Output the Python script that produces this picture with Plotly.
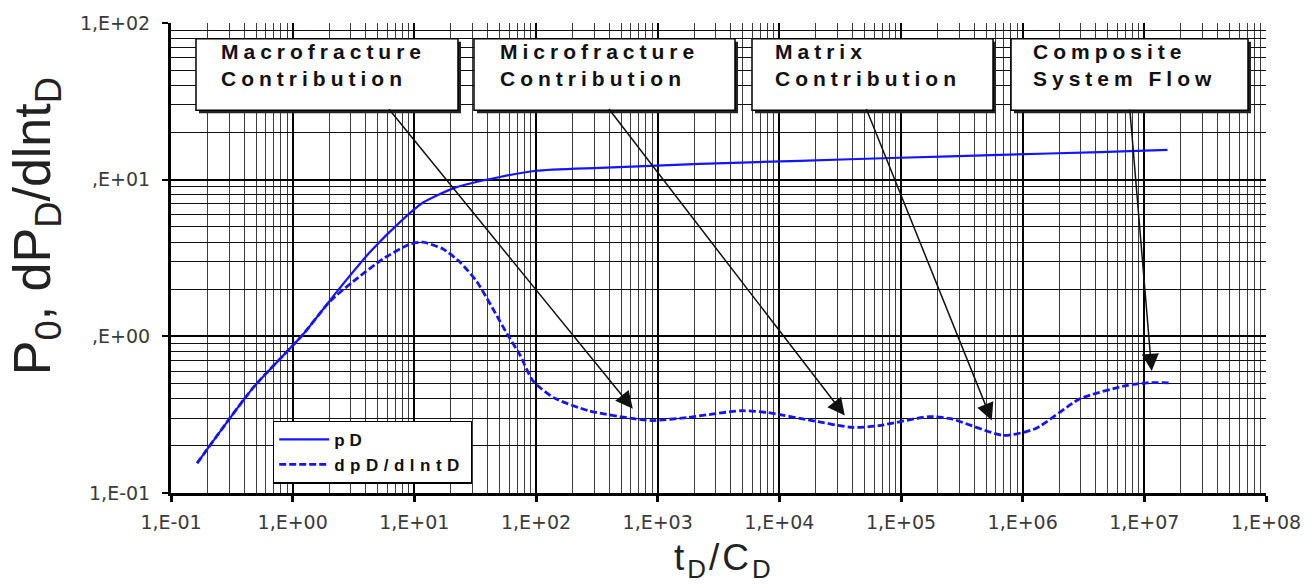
import numpy as np
import plotly.graph_objects as go

# ---- data ----
pd_x = [0.164, 0.472, 1.22, 2.31, 4.32, 8.05, 11.8, 21.6, 50.5, 100, 335, 2220,
        14700, 97700, 646000, 4.3e6, 1.55e7]
pd_y = [0.155, 0.469, 1.03, 1.93, 3.45, 5.58, 7.15, 8.9, 10.4, 11.4, 11.9, 12.6,
        13.2, 13.8, 14.4, 15.0, 15.5]

dpd_x = [0.164, 0.472, 1.22, 2.02, 3.12, 5.52, 9.2, 11.8, 17.2, 23.7, 32.7, 44.2,
         57.7, 73.8, 94.4, 140, 272, 637, 895, 1738, 4830, 8040, 18490, 40200,
         65700, 169000, 256000, 700000, 1.28e6, 2.95e6, 6.9e6, 1.05e7, 1.62e7]
dpd_y = [0.155, 0.469, 1.03, 1.67, 2.23, 3.12, 3.88, 3.99, 3.61, 2.98, 2.23, 1.50,
         1.04, 0.76, 0.519, 0.405, 0.335, 0.298, 0.290, 0.303, 0.335, 0.326, 0.290,
         0.262, 0.269, 0.307, 0.298, 0.233, 0.258, 0.399, 0.483, 0.505, 0.505]

x_tickvals = [1e-1, 1e0, 1e1, 1e2, 1e3, 1e4, 1e5, 1e6, 1e7, 1e8]
x_ticktext = ["1,E-01", "1,E+00", "1,E+01", "1,E+02", "1,E+03", "1,E+04",
              "1,E+05", "1,E+06", "1,E+07", "1,E+08"]
y_tickvals = [1e-1, 1e0, 1e1, 1e2]
y_ticktext = ["1,E-01", ",E+00", ",E+01", "1,E+02"]

box_labels = [("Macrofracture", "Contribution"),
              ("Microfracture", "Contribution"),
              ("Matrix", "Contribution"),
              ("Composite", "System Flow")]
# arrow tips (data values) for each label
arrow_tip_x = [625, 34500, 557000, 1.15e7]
arrow_tip_y = [0.345, 0.312, 0.290, 0.600]

# ---- layout helpers (pixel geometry) ----
W, H = 1314, 588
L, R, T, B = 171, 48, 19, 95
PW, PH = W - L - R, H - T - B


def px(xp):
    return (xp - L) / PW


def py(yp):
    return (H - B - yp) / PH


def ls(txt, sp):
    return f'<span style="letter-spacing:{sp}px">{txt}</span>'


fig = go.Figure()
fig.add_trace(go.Scatter(x=pd_x, y=pd_y, mode="lines", name="<b>" + ls("pD", 5) + "</b>",
                         line=dict(color="#1414ff", width=2.2, shape="spline", smoothing=0.6)))
fig.add_trace(go.Scatter(x=dpd_x, y=dpd_y, mode="lines", name="<b>" + ls("dpD/dlntD", 5.5) + "</b>",
                         line=dict(color="#1414ff", width=2.8, dash="7px,3px",
                                   shape="spline", smoothing=0.6)))

minor_vals = [k * 10.0 ** e for e in range(-1, 8) for k in range(2, 10)]
minor_vals_y = [k * 10.0 ** e for e in range(-1, 2) for k in range(2, 10)]

tickfont = dict(family="DejaVu Sans", size=19, color="#3a3a3a")
fig.update_xaxes(type="log", range=[-1, 8], tickmode="array", tickvals=x_tickvals,
                 ticktext=x_ticktext, tickfont=tickfont,
                 showgrid=True, gridcolor="#000", gridwidth=1.5,
                 showline=True, linecolor="black", linewidth=3,
                 ticks="outside", ticklen=6, tickwidth=3, tickcolor="black",
                 ticklabelstandoff=4,
                 minor=dict(tickmode="array", tickvals=minor_vals, showgrid=True,
                            gridcolor="#3c3c3c", gridwidth=1.2, ticks=""),
                 zeroline=False)
fig.update_yaxes(type="log", range=[-1, 2], tickmode="array", tickvals=y_tickvals,
                 ticktext=y_ticktext, tickfont=tickfont,
                 showgrid=True, gridcolor="#000", gridwidth=1.5,
                 showline=True, linecolor="black", linewidth=3,
                 ticks="outside", ticklen=6, tickwidth=2, tickcolor="black",
                 ticklabelstandoff=8,
                 minor=dict(tickmode="array", tickvals=minor_vals_y, showgrid=True,
                            gridcolor="#111", gridwidth=1.3, ticks=""),
                 zeroline=False)

shapes = []
annotations = []
box_px = [(196, 458), (474, 735), (752, 993), (1011, 1248)]
text_left = [221, 500, 775, 1033]
btop, bbot = 35, 107
for (x0, x1), (l1, l2), tl in zip(box_px, box_labels, text_left):
    shapes.append(dict(type="rect", xref="paper", yref="paper",
                       x0=px(x0 + 3), x1=px(x1 + 3), y0=py(bbot + 3), y1=py(btop + 3),
                       fillcolor="#222", line=dict(width=0), layer="above"))
    shapes.append(dict(type="rect", xref="paper", yref="paper",
                       x0=px(x0), x1=px(x1), y0=py(bbot), y1=py(btop),
                       fillcolor="white", line=dict(color="black", width=1.5), layer="above"))
    annotations.append(dict(xref="paper", yref="paper", x=px(tl - 2), y=py(34),
                            xanchor="left", yanchor="top", align="left", showarrow=False,
                            text="<b>" + ls(l1, 5) + "</b><br><b>" + ls(l2, 5) + "</b>",
                            font=dict(family="Liberation Sans, Arial", size=21, color="#111")))

tails = [(388, bbot), (608, bbot), (866, bbot), (1130, bbot)]
tips_px = [(633, 408), (845, 415), (992, 420), (1152, 370)]
for tx, ty, (ax_, ay_), (tpx, tpy) in zip(arrow_tip_x, arrow_tip_y, tails, tips_px):
    annotations.append(dict(x=np.log10(tx), y=np.log10(ty), xref="x", yref="y",
                            text="", showarrow=True, arrowhead=2, arrowsize=2.3,
                            arrowwidth=1.5, arrowcolor="#111",
                            ax=ax_ - tpx, ay=ay_ - tpy, standoff=0))

annotations.append(dict(xref="paper", yref="paper", x=px(36), y=py(224),
                        xanchor="center", yanchor="middle", textangle=-90, showarrow=False,
                        text="P<sub>0</sub>, dP<sub>D</sub>/dlnt<sub>D</sub>",
                        font=dict(family="Liberation Sans, Arial", size=52, color="#222")))
annotations.append(dict(xref="paper", yref="paper", x=px(724), y=py(561),
                        xanchor="center", yanchor="middle", showarrow=False,
                        text=ls("t<sub>D</sub>/C<sub>D</sub>", 3),
                        font=dict(family="Liberation Sans, Arial", size=37, color="#222")))

fig.update_layout(width=W, height=H, margin=dict(l=L, r=R, t=T, b=B),
                  paper_bgcolor="white", plot_bgcolor="white",
                  shapes=shapes, annotations=annotations,
                  legend=dict(x=px(273), y=py(420), xanchor="left", yanchor="top",
                              bgcolor="white", bordercolor="black", borderwidth=1.2,
                              font=dict(family="Liberation Sans, Arial", size=17, color="#111"),
                              tracegroupgap=2, itemwidth=50))

fig.write_html("out.html")
